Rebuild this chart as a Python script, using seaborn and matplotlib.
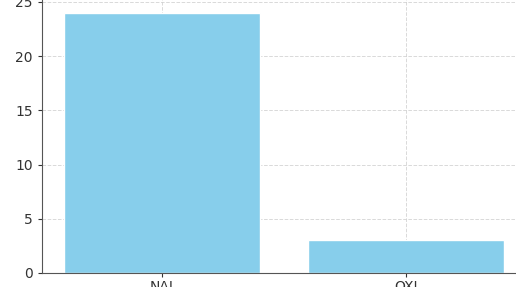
import pandas as pd
import seaborn as sns
import matplotlib
matplotlib.use('Agg')
import matplotlib.pyplot as plt

categories = ['NAI', 'OXI']
counts = [24, 3]

df = pd.DataFrame({'cat': categories, 'n': counts})

sns.set_style('ticks')
plt.rcParams['font.family'] = ['DejaVu Sans']

fig = plt.figure(figsize=(5.16, 2.87), dpi=100)
# the reference is cropped: right and top edges of the axes run off the picture
ax = fig.add_axes([42 / 516, 14 / 287, 490 / 516, 276 / 287])
sns.barplot(data=df, x='cat', y='n', color='skyblue', saturation=1, width=0.8, ax=ax)
ax.set_xlim(-0.49, 1.515)
ax.set_ylim(0, 25.45)
ax.set_yticks([0, 5, 10, 15, 20, 25])
ax.grid(True, linestyle='--', color='#d0d0d0', linewidth=0.7, alpha=0.8)
ax.set_axisbelow(True)
ax.set_xlabel('')
ax.set_ylabel('')
for s in ax.spines.values():
    s.set_color('#555555')
ax.tick_params(colors='#333333', labelsize=10, length=3, width=0.8)
ax.tick_params(axis='x', pad=2)

fig.savefig('out.png', dpi=100)
